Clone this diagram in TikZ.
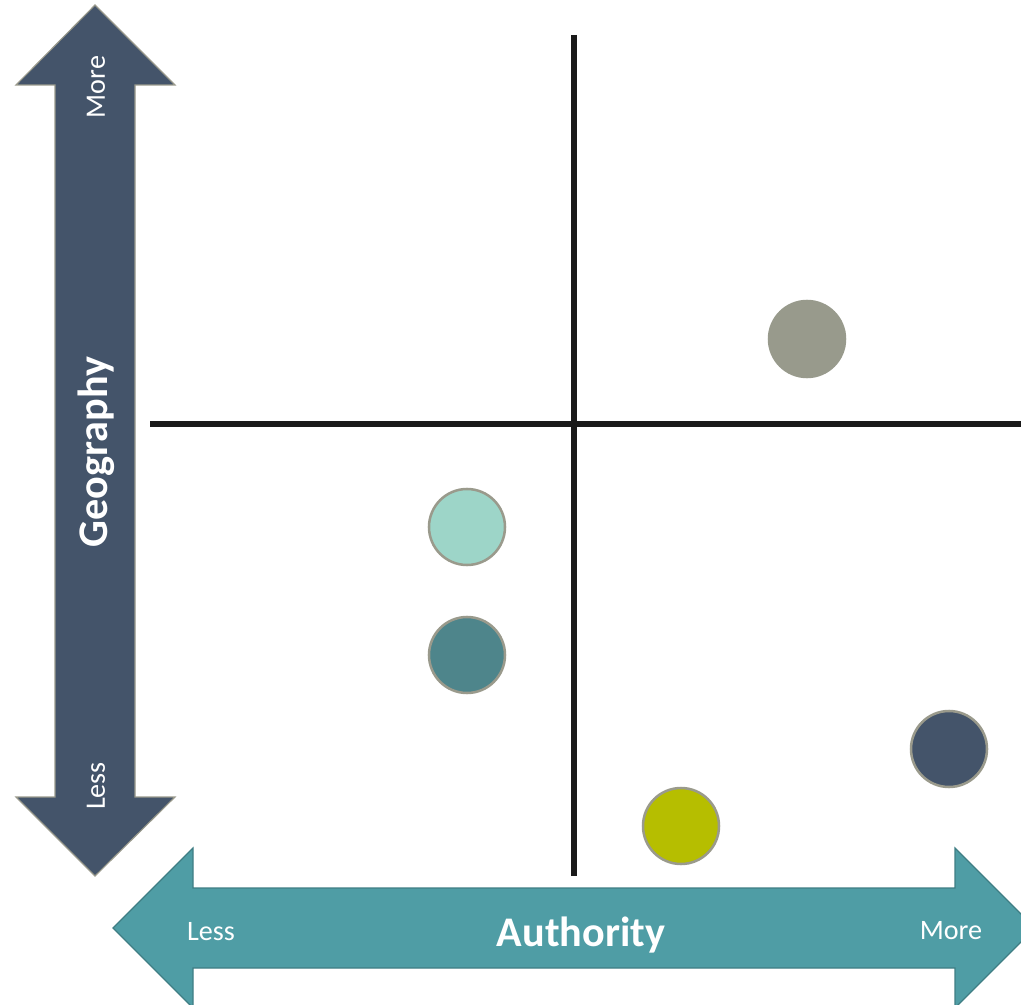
\documentclass[tikz,border=0pt]{standalone}
\usepackage{fontspec}
\setmainfont{Carlito}
\usepackage{tikz}
\definecolor{geo}{HTML}{44546A}
\definecolor{auth}{HTML}{4F9DA5}
\definecolor{rim}{HTML}{9A9A8C}
\definecolor{axis}{HTML}{1A1A1A}
\definecolor{stone}{HTML}{989A8C}
\definecolor{mint}{HTML}{9DD5C8}
\definecolor{teal}{HTML}{4E858B}
\definecolor{lime}{HTML}{B6BE00}
\tikzset{
  shaft/.style={draw=rim, line width=0.8pt, line join=miter},
  axisline/.style={draw=axis, line width=3.6pt},
  dot/.style={circle, draw=rim, line width=1.8pt, minimum size=76*0.025cm, inner sep=0pt},
  lab/.style={text=white, font=\fontsize{20}{24}\selectfont},
  title/.style={text=white, font=\bfseries\fontsize{30}{36}\selectfont},
}
\begin{document}
\begin{tikzpicture}[x=0.025cm, y=-0.025cm]
  \useasboundingbox (0,0) rectangle (1021,1005);
  \clip (0,0) rectangle (1021,1005);
  % geography arrow
  \draw[shaft, fill=geo] (95,5) -- (175,85) -- (135,85) -- (135,797) -- (175,797)
    -- (95,876) -- (16,797) -- (55,797) -- (55,85) -- (16,85) -- cycle;
  % authority arrow
  \draw[shaft, draw=auth!80!black, fill=auth] (113,928) -- (193,848) -- (193,888) -- (955,888) -- (955,848)
    -- (1035,928) -- (955,1008) -- (955,968) -- (193,968) -- (193,1008) -- cycle;
  % axes
  \coordinate (top) at (574,35);
  \coordinate (bot) at (574,876);
  \coordinate (west) at (150,424);
  \coordinate (east) at (1021,424);
  \draw[axisline] (top) -- (bot);
  \draw[axisline] (west) -- (east);
  % labels
  \node[title, rotate=90] (geography) at (96,452) {Geography};
  \node[lab, rotate=90] (geomore) at (96,87) {More};
  \node[lab, rotate=90] (geoless) at (96,786) {Less};
  \node[title] (authority) at (581,935) {Authority};
  \node[lab] (authless) at (211,932) {Less};
  \node[lab] (authmore) at (951,931) {More};
  % points
  \node[dot, draw=stone, fill=stone] (p1) at (807,339) {};
  \node[dot, fill=mint] (p2) at (467,527) {};
  \node[dot, fill=teal] (p3) at (467,655) {};
  \node[dot, fill=lime] (p4) at (681,826) {};
  \node[dot, fill=geo] (p5) at (949,749) {};
\end{tikzpicture}
\end{document}
